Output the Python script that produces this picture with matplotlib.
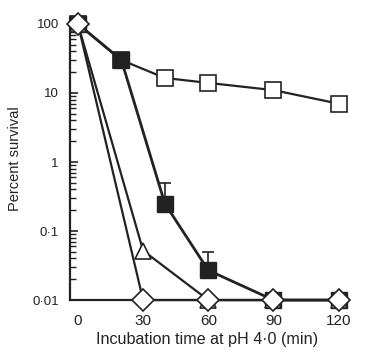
import matplotlib
matplotlib.use("Agg")
import matplotlib.pyplot as plt
from matplotlib.ticker import FixedLocator, LogLocator, NullFormatter

plt.rcParams['font.family'] = ['Liberation Sans', 'DejaVu Sans']

# survival (%) vs time at pH 4.0
t_open_sq = [0, 20, 40, 60, 90, 120]
v_open_sq = [100, 30, 16.5, 14, 11, 7]

t_fill_sq = [0, 20, 40, 60, 90, 120]
v_fill_sq = [100, 30, 0.25, 0.027, 0.01, 0.01]
err_fill_sq = [0, 0, 0.25, 0.023, 0, 0]   # upper error only

t_tri = [0, 30, 60, 90, 120]
v_tri = [100, 0.052, 0.01, 0.01, 0.01]

t_dia = [0, 30, 60, 90, 120]
v_dia = [100, 0.01, 0.01, 0.01, 0.01]

xticks = [0, 30, 60, 90, 120]
yticks = [0.01, 0.1, 1, 10, 100]
ylabels = ['0·01', '0·1', '1', '10', '100']

ink = '#222222'

fig = plt.figure(figsize=(3.66, 3.53), dpi=100)
ax = fig.add_axes([0.191, 0.150, 0.752, 0.799])

ax.plot(t_open_sq, v_open_sq, color=ink, lw=1.6, marker='s', ms=12,
        mfc='white', mec=ink, mew=1.2, clip_on=False, zorder=3)
ax.errorbar(t_fill_sq, v_fill_sq, yerr=[[0]*len(err_fill_sq), err_fill_sq],
            color=ink, lw=2.0, marker='s', ms=12, mfc=ink, mec=ink,
            ecolor=ink, elinewidth=1.2, capsize=4, capthick=1.2,
            clip_on=False, zorder=4)
ax.plot(t_tri, v_tri, color=ink, lw=1.6, marker='^', ms=12,
        mfc='white', mec=ink, mew=1.2, clip_on=False, zorder=5)
ax.plot(t_dia, v_dia, color=ink, lw=1.6, marker='D', ms=11,
        mfc='white', mec=ink, mew=1.2, clip_on=False, zorder=6)

ax.set_yscale('log')
ax.set_xlim(-3.7, 123)
ax.set_ylim(0.01, 122)

ax.yaxis.set_major_locator(FixedLocator(yticks))
ax.set_yticklabels(ylabels)
ax.yaxis.set_minor_locator(LogLocator(base=10, subs=range(2, 10)))
ax.yaxis.set_minor_formatter(NullFormatter())
ax.set_xticks(xticks)
ax.set_xticklabels([str(x) for x in xticks])

ax.tick_params(axis='y', which='major', direction='in', length=6, width=1.2,
               color=ink, labelsize=9.5, pad=8, labelcolor=ink)
ax.tick_params(axis='y', which='minor', direction='in', length=4, width=1.0,
               color=ink)
ax.tick_params(axis='x', length=0, labelsize=11, pad=10, labelcolor=ink)

for s in ['top', 'right']:
    ax.spines[s].set_visible(False)
for s in ['left', 'bottom']:
    ax.spines[s].set_linewidth(1.6)
    ax.spines[s].set_color(ink)

ax.set_xlabel('Incubation time at pH 4·0 (min)', fontsize=11.6, color=ink, labelpad=3)
ax.set_ylabel('Percent survival', fontsize=10.5, color=ink, labelpad=7)

fig.savefig('out.png', dpi=100)
